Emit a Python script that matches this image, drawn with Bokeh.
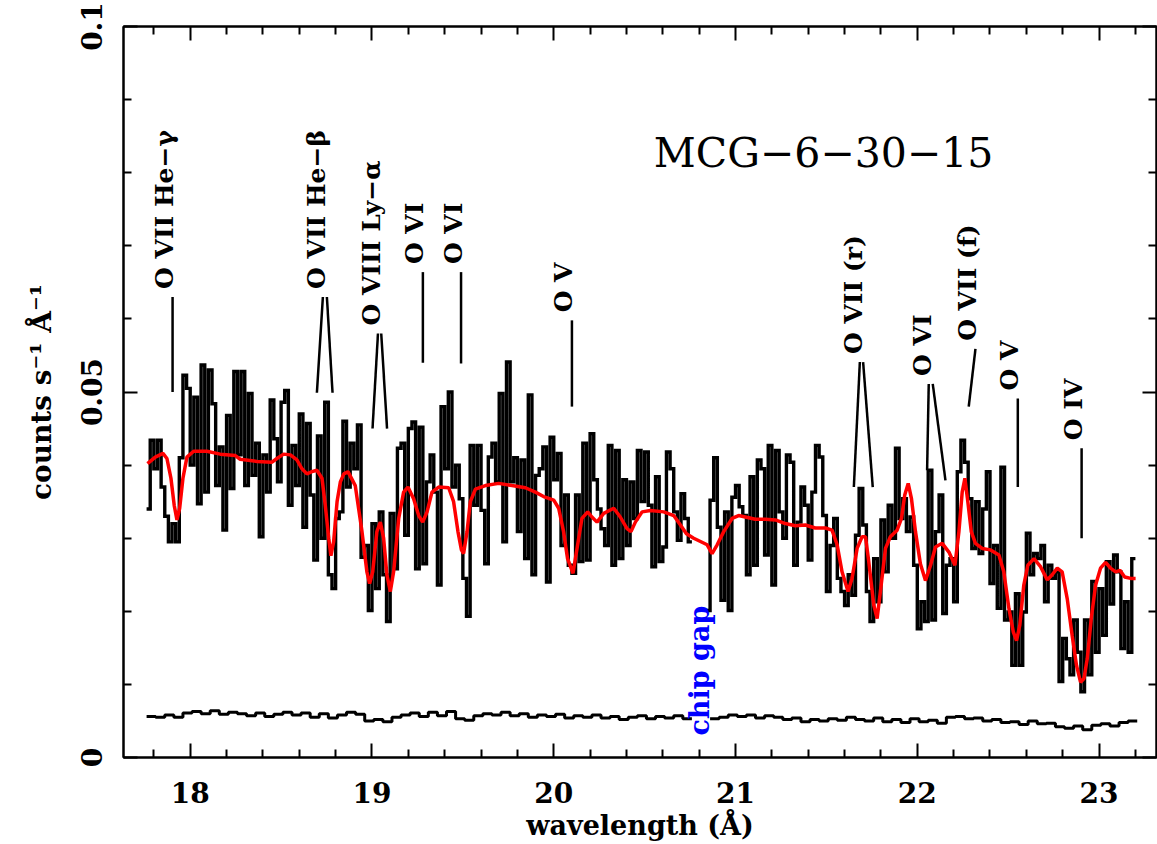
import numpy as np
from bokeh.plotting import figure
from bokeh.models import Range1d, LinearAxis, FixedTicker
from bokeh.core.properties import value
from bokeh.embed import file_html
from bokeh.resources import INLINE

nan = float("nan")

# ---------------- data ----------------
BIN_START = 17.76      # first bin edge (Angstrom)
BIN_WIDTH = 0.02       # bin width (Angstrom)
counts = [
    0.034, 0.0434, 0.0395, 0.0434, 0.037, 0.033, 0.0295, 0.032, 0.0295, 0.041,
    0.0523, 0.0505, 0.040, 0.0493, 0.0347, 0.0537, 0.0363, 0.053, 0.0484, 0.0372,
    0.0425, 0.0311, 0.0468, 0.0368, 0.0528, 0.0414, 0.0528, 0.0372, 0.0498, 0.0386,
    0.043, 0.0302, 0.0414, 0.0363, 0.0489, 0.0436, 0.0377, 0.0486, 0.0502, 0.0345,
    0.0427, 0.0372, 0.047, 0.0315, 0.0457, 0.0359, 0.027, 0.044, 0.030, 0.0486,
    0.025, 0.0231, 0.0327, 0.0336, 0.046, 0.037, 0.043, 0.0395, 0.0455, 0.0274,
    0.029, 0.0201, 0.032, 0.0231, 0.0336, 0.025, 0.0186, 0.0334, 0.0258, 0.0423,
    0.043, 0.0304, 0.045, 0.0459, 0.0258, 0.0452, 0.0265, 0.0377, 0.0414, 0.0363,
    0.0236, 0.048, 0.0395, 0.050, 0.037, 0.040, 0.0354, 0.0245, 0.0193, 0.0427,
    0.0345, 0.0427, 0.0338, 0.0265, 0.0411, 0.043, 0.0377, 0.0498, 0.0295, 0.0541,
    0.0377, 0.041, 0.0309, 0.0407, 0.0272, 0.0496, 0.025, 0.0386, 0.0395, 0.0425,
    0.024, 0.0438, 0.038, 0.0416, 0.029, 0.0359, 0.0263, 0.0252, 0.0359, 0.0268,
    0.043, 0.027, 0.0443, 0.038, 0.034, 0.0313, 0.029, 0.0427, 0.0263, 0.042,
    0.0272, 0.038, 0.029, 0.0377, 0.0327, 0.042, 0.035, 0.0418, 0.0345, 0.0261,
    0.0384, 0.0268, 0.0288, 0.0418, 0.0395, 0.0336, 0.0297, 0.0361, 0.0327, 0.0295,
    nan, nan, nan, nan, 0.0201, 0.0352, 0.041, 0.0315, 0.0215, 0.0336,
    0.0201, 0.0356, 0.0372, 0.0343, 0.0331, 0.025, 0.0384, 0.0263, 0.0407, 0.0395,
    0.0277, 0.0427, 0.0236, 0.042, 0.0336, 0.030, 0.0414, 0.0404, 0.0263, 0.0322,
    0.037, 0.0345, 0.027, 0.0363, 0.0427, 0.0411, 0.0331, 0.0227, 0.029, 0.0327,
    0.0245, 0.0227, 0.0208, 0.025, 0.0222, 0.0304, 0.0368, 0.0318, 0.0227, 0.0186,
    0.0272, 0.0213, 0.0325, 0.0254, 0.0345, 0.030, 0.0423, 0.0327, 0.0354, 0.0309,
    0.0329, 0.0263, 0.0176, 0.0213, 0.0186, 0.0393, 0.0188, 0.0309, 0.0359, 0.0197,
    0.0263, 0.0272, 0.0213, 0.0391, 0.0434, 0.0404, 0.0354, 0.0286, 0.035, 0.0279,
    0.034, 0.0391, 0.0238, 0.029, 0.0204, 0.0397, 0.0188, 0.0199, 0.0126, 0.0224,
    0.0126, 0.0199, 0.0307, 0.025, 0.0279, 0.0272, 0.029, 0.0213, 0.0263, 0.0245,
    0.0254, 0.0104, 0.0163, 0.0135, 0.0113, 0.0188, 0.0144, 0.009, 0.0188, 0.0113,
    0.0241, 0.0144, 0.0231, 0.0167, 0.0268, 0.021, 0.0277, 0.0254, 0.0149, 0.0213,
    0.0144, 0.0272,
]

model_wave = [
    17.765, 17.808, 17.85, 17.872, 17.894, 17.912, 17.927, 17.942, 17.96, 17.982,
    18.019, 18.092, 18.165, 18.248, 18.275, 18.367, 18.45, 18.477, 18.514, 18.551,
    18.587, 18.615, 18.642, 18.67, 18.697, 18.725, 18.743, 18.762, 18.774, 18.789,
    18.808, 18.826, 18.845, 18.868, 18.908, 18.945, 18.972, 18.987, 19.004, 19.027,
    19.046, 19.064, 19.082, 19.101, 19.119, 19.147, 19.174, 19.198, 19.229, 19.257,
    19.279, 19.303, 19.33, 19.367, 19.422, 19.449, 19.473, 19.492, 19.504, 19.523,
    19.541, 19.569, 19.624, 19.697, 19.77, 19.844, 19.899, 19.944, 20.0, 20.027,
    20.054, 20.076, 20.106, 20.128, 20.155, 20.187, 20.21, 20.238, 20.275, 20.33,
    20.366, 20.403, 20.425, 20.449, 20.486, 20.532, 20.605, 20.66, 20.697, 20.73,
    20.77, 20.844, 20.871, 20.899, 20.935, 20.981, 21.017, 21.054, 21.109, 21.164,
    21.219, 21.274, 21.329, 21.384, 21.439, 21.494, 21.531, 21.559, 21.586, 21.619,
    21.641, 21.669, 21.696, 21.715, 21.733, 21.761, 21.779, 21.797, 21.825, 21.852,
    21.889, 21.913, 21.931, 21.95, 21.968, 21.99, 22.017, 22.045, 22.073, 22.1,
    22.137, 22.174, 22.207, 22.229, 22.247, 22.262, 22.278, 22.297, 22.32, 22.357,
    22.403, 22.449, 22.476, 22.504, 22.528, 22.546, 22.564, 22.586, 22.608, 22.642,
    22.678, 22.715, 22.742, 22.77, 22.797, 22.825, 22.852, 22.876, 22.898, 22.917,
    22.935, 22.957, 22.981, 23.008, 23.036, 23.063, 23.091, 23.115, 23.141, 23.174,
    23.201,
]
model_flux = [
    0.0402, 0.0411, 0.0416, 0.0409, 0.0382, 0.0345, 0.0325, 0.0341, 0.0382, 0.0411,
    0.0419, 0.0419, 0.0415, 0.0413, 0.0408, 0.0405, 0.0404, 0.0409, 0.0415, 0.0414,
    0.0407, 0.0395, 0.0388, 0.0391, 0.0393, 0.0382, 0.0345, 0.030, 0.0276, 0.0295,
    0.035, 0.0377, 0.0388, 0.0391, 0.0372, 0.0309, 0.0254, 0.0238, 0.0254, 0.0309,
    0.0322, 0.030, 0.025, 0.0227, 0.0254, 0.0327, 0.0363, 0.037, 0.0354, 0.0331,
    0.0322, 0.0336, 0.0363, 0.037, 0.0369, 0.035, 0.0309, 0.0284, 0.0279, 0.0309,
    0.035, 0.0367, 0.0372, 0.0375, 0.0372, 0.0369, 0.0363, 0.0357, 0.0352, 0.0341,
    0.0309, 0.0272, 0.0252, 0.0286, 0.0327, 0.0336, 0.0329, 0.0322, 0.0334, 0.0341,
    0.0329, 0.0313, 0.0309, 0.0322, 0.0336, 0.0338, 0.0336, 0.0331, 0.0318, 0.0306,
    0.030, 0.0291, 0.0279, 0.0291, 0.0309, 0.0327, 0.0331, 0.0329, 0.0326, 0.0326,
    0.0325, 0.032, 0.0317, 0.0318, 0.0314, 0.0314, 0.0311, 0.0291, 0.0254, 0.0227,
    0.0245, 0.0286, 0.0302, 0.0302, 0.0268, 0.0208, 0.019, 0.0227, 0.0286, 0.0302,
    0.0311, 0.0327, 0.0359, 0.0375, 0.0354, 0.0309, 0.0265, 0.0242, 0.0263, 0.0288,
    0.0293, 0.0281, 0.0263, 0.0309, 0.0363, 0.0382, 0.035, 0.0309, 0.0293, 0.0286,
    0.0284, 0.0277, 0.0254, 0.0204, 0.0172, 0.016, 0.0181, 0.0236, 0.0263, 0.0272,
    0.0261, 0.0243, 0.025, 0.0259, 0.0254, 0.0217, 0.0167, 0.0126, 0.0103, 0.0108,
    0.0135, 0.019, 0.0236, 0.0259, 0.0267, 0.0259, 0.0254, 0.0256, 0.0247, 0.0245,
    0.0245,
]

BKG_START = 17.76
BKG_WIDTH = 0.05
background = [
    0.0056, 0.0055, 0.0058, 0.0055, 0.0061, 0.0063, 0.0060, 0.0064, 0.0059, 0.0062,
    0.0060, 0.0057, 0.0061, 0.0056, 0.0059, 0.0062, 0.0058, 0.0061, 0.0055, 0.0060,
    0.0054, 0.0058, 0.0062, 0.0059, 0.0050, 0.0052, 0.0049, 0.0055, 0.0058, 0.0061,
    0.0056, 0.0062, 0.0057, 0.0063, 0.0053, 0.0051, 0.0057, 0.0060, 0.0058, 0.0062,
    0.0057, 0.0060, 0.0055, 0.0058, 0.0056, 0.0059, 0.0054, 0.0057, 0.0055, 0.0058,
    0.0054, 0.0056, 0.0052, 0.0055, 0.0057, 0.0053, 0.0056, 0.0054, 0.0057, 0.0053,
    nan, nan, 0.0053, 0.0055, 0.0058, 0.0056, 0.0058, 0.0054, 0.0057, 0.0055,
    0.0052, 0.0054, 0.0049, 0.0052, 0.0050, 0.0053, 0.0051, 0.0055, 0.0052, 0.0050,
    0.0054, 0.0049, 0.0052, 0.0048, 0.0053, 0.0049, 0.0051, 0.0047, 0.0055, 0.0056,
    0.0053, 0.0054, 0.0050, 0.0052, 0.0048, 0.0049, 0.0045, 0.0050, 0.0046, 0.0047,
    0.0042, 0.0040, 0.0043, 0.0038, 0.0044, 0.0046, 0.0043, 0.0048, 0.0050,
]

mark_labels = ["O VII He\u2212\u03b3", "O VII He\u2212\u03b2", "O VIII Ly\u2212\u03b1", "O VI", "O VI",
               "O V", "O VII (r)", "O VI", "O VII (f)", "O V", "O IV"]
mark_top_wave = [[17.903], [18.730, 18.752], [19.033, 19.051], [19.28], [19.49], [20.10],
                 [21.684, 21.702], [22.063, 22.085], [22.320], [22.553], [22.904]]
mark_bot_wave = [[17.903], [18.697, 18.783], [19.003, 19.083], [19.28], [19.49], [20.10],
                 [21.651, 21.755], [22.054, 22.155], [22.283], [22.553], [22.904]]
mark_top_flux = [0.063, 0.063, 0.058, 0.0664, 0.0664, 0.0598, 0.0541, 0.0511, 0.0559, 0.0491, 0.0423]
mark_bot_flux = [[0.050], [0.0499, 0.0499], [0.045, 0.045], [0.054], [0.0539], [0.048],
                 [0.037, 0.037], [0.0393, 0.0379], [0.048], [0.037], [0.030]]

title_text = "MCG\u22126\u221230\u221215"
title_pos = (22.419, 0.0827)
gap_text = "chip gap"
gap_pos = (20.804, 0.003)

x_major = [18, 19, 20, 21, 22, 23]
x_minor = [17.8, 18.2, 18.4, 18.6, 18.8, 19.2, 19.4, 19.6, 19.8, 20.2, 20.4, 20.6, 20.8,
           21.2, 21.4, 21.6, 21.8, 22.2, 22.4, 22.6, 22.8, 23.2]
y_major = [0, 0.05, 0.1]
y_minor = [0.01, 0.02, 0.03, 0.04, 0.06, 0.07, 0.08, 0.09]


def hist_xy(start, width, vals):
    xs, ys = [], []
    for i, v in enumerate(vals):
        x0 = start + i * width
        if np.isnan(v):
            xs.append(nan); ys.append(nan)
            continue
        xs += [x0, x0 + width]
        ys += [v, v]
    return xs, ys


FONT = "DejaVu Serif"

p = figure(width=1157, height=844, output_backend="svg", toolbar_location=None,
           x_range=Range1d(17.633, 23.316), y_range=Range1d(0, 0.1),
           min_border_left=123, min_border_right=1, min_border_top=26, min_border_bottom=87)
p.background_fill_color = "white"
p.border_fill_color = "white"
p.grid.visible = False
p.outline_line_color = "black"
p.outline_line_width = 2

# data histogram
hx, hy = hist_xy(BIN_START, BIN_WIDTH, counts)
p.line(hx, hy, line_color="black", line_width=3.4, line_join="miter")

# background histogram
bx, by = hist_xy(BKG_START, BKG_WIDTH, background)
p.line(bx, by, line_color="black", line_width=3)

# model
p.line(model_wave, model_flux, line_color="red", line_width=3.5)

# marker lines
sx0, sy0, sx1, sy1 = [], [], [], []
lx, ly, lt = [], [], []
for lab, tw, bw, tf, bf in zip(mark_labels, mark_top_wave, mark_bot_wave, mark_top_flux, mark_bot_flux):
    for a, b, c in zip(tw, bw, bf):
        sx0.append(a); sy0.append(tf); sx1.append(b); sy1.append(c)
    lx.append(sum(tw) / len(tw)); ly.append(tf); lt.append(lab)
p.segment(sx0, sy0, sx1, sy1, line_color="black", line_width=2.5)
p.text(x=lx, y=ly, text=lt, angle=np.pi / 2, text_align="left", text_baseline="middle",
       x_offset=-8, y_offset=-8, text_font=value(FONT), text_font_style="bold",
       text_font_size="25px", text_color="black")

p.text(x=[title_pos[0]], y=[title_pos[1]], text=[title_text], text_align="right",
       text_baseline="alphabetic", text_font=value(FONT), text_font_size="41px",
       text_color="black")
p.text(x=[gap_pos[0]], y=[gap_pos[1]], text=[gap_text], angle=np.pi / 2, text_align="left",
       text_baseline="middle", text_font=value(FONT), text_font_style="bold",
       text_font_size="27px", text_color="#0000ff")


def style_axis(ax, ticks, minor, labels=True):
    ax.ticker = FixedTicker(ticks=ticks, minor_ticks=minor)
    ax.axis_line_width = 2
    ax.major_tick_line_width = 2
    ax.minor_tick_line_width = 2
    ax.major_tick_in = 14
    ax.major_tick_out = 0
    ax.minor_tick_in = 8
    ax.minor_tick_out = 0
    ax.major_label_text_font = FONT
    ax.major_label_text_font_style = "bold"
    ax.major_label_text_font_size = "28px" if labels else "2px"
    ax.major_label_text_color = "black"
    ax.axis_label_text_font = FONT
    ax.axis_label_text_font_style = "bold"
    ax.axis_label_text_font_size = "27px"
    ax.axis_label_text_color = "black"
    if not labels:
        ax.major_label_overrides = {t: "" for t in ticks}
        ax.major_label_standoff = 0


xb = p.xaxis[0]
style_axis(xb, x_major, x_minor)
xb.axis_label = "wavelength (\u00c5)"
xb.major_label_standoff = 24
xb.axis_label_standoff = 4

yl = p.yaxis[0]
style_axis(yl, y_major, y_minor)
yl.axis_label = "counts s\u207b\u00b9 \u00c5\u207b\u00b9"
yl.axis_label_text_font_size = "28px"
yl.major_label_overrides = {0: "0", 0.05: "0.05", 0.1: "0.1"}
yl.major_label_orientation = "vertical"
yl.major_label_standoff = 22
yl.axis_label_standoff = 20

xt = LinearAxis()
style_axis(xt, x_major, x_minor, labels=False)
p.add_layout(xt, "above")

yr = LinearAxis()
style_axis(yr, y_major, y_minor, labels=False)
p.add_layout(yr, "right")

open("out.html", "w").write(file_html(p, INLINE))
